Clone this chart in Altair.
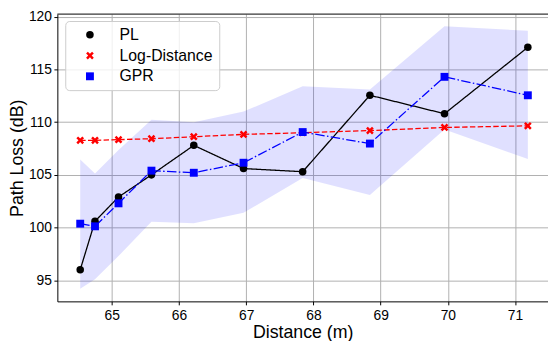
import altair as alt
import pandas as pd

# ---- data ----
distance = [64.53, 64.75, 65.10, 65.59, 66.22, 66.96, 67.84, 68.84, 69.95, 71.19]
pl = [96.0, 100.6, 102.9, 105.0, 107.8, 105.6, 105.3, 112.55, 110.8, 117.1]
log_distance = [108.28, 108.28, 108.34, 108.43, 108.62, 108.84, 109.0, 109.2, 109.5, 109.65]
gpr = [100.37, 100.12, 102.3, 105.4, 105.2, 106.15, 109.06, 107.97, 114.3, 112.55]
gpr_upper = [106.47, 105.12, 107.36, 110.22, 110.0, 111.0, 113.4, 113.1, 119.1, 118.66]
gpr_lower = [94.2, 95.1, 97.3, 100.55, 100.4, 101.4, 104.7, 103.1, 109.3, 106.5]

series_names = ["PL", "Log-Distance", "GPR"]
series_colors = ["#000000", "#ff0000", "#0000ff"]
x_ticks = [65, 66, 67, 68, 69, 70, 71]
y_ticks = [95, 100, 105, 110, 115, 120]

# filled "X" marker path (unit box -1..1)
X_PATH = "M-1,-0.55L-0.55,-1L0,-0.45L0.55,-1L1,-0.55L0.45,0L1,0.55L0.55,1L0,0.45L-0.55,1L-1,0.55L-0.45,0Z"
series_shapes = ["circle", X_PATH, "square"]
series_sizes = [58, 64, 62]
series_dash = [[1, 0], [5.5, 2.4], [9.6, 2.4, 1.5, 2.4]]

rows = []
for name, vals in zip(series_names, [pl, log_distance, gpr]):
    for d, v in zip(distance, vals):
        rows.append({"distance": d, "value": v, "series": name})
long_df = pd.DataFrame(rows)
band_df = pd.DataFrame({"distance": distance, "lower": gpr_lower, "upper": gpr_upper})

W, H = 497, 291
FONT = "Liberation Sans"

xscale = alt.Scale(domain=[64.19, 71.49], nice=False, zero=False)
yscale = alt.Scale(domain=[93.0, 120.25], nice=False, zero=False)

xaxis = alt.Axis(values=x_ticks, title="Distance (m)", grid=True, tickSize=3.5,
                 labelPadding=3.5, titlePadding=1.5, format="d")
yaxis = alt.Axis(values=y_ticks, title="Path Loss (dB)", grid=True, tickSize=3.5,
                 labelPadding=2.5, titlePadding=1.5, format="d")

color_scale = alt.Scale(domain=series_names, range=series_colors)

band = alt.Chart(band_df).mark_area(color="#0000ff", opacity=0.12).encode(
    x=alt.X("distance:Q", scale=xscale, axis=xaxis),
    y=alt.Y("lower:Q", scale=yscale, axis=yaxis),
    y2="upper:Q",
)

line_layers = []
for name, col, dash in zip(series_names, series_colors, series_dash):
    line_layers.append(
        alt.Chart(long_df).transform_filter(alt.datum.series == name)
        .mark_line(strokeWidth=1.3, color=col, strokeDash=dash)
        .encode(x=alt.X("distance:Q", scale=xscale), y=alt.Y("value:Q", scale=yscale))
    )

points = alt.Chart(long_df).mark_point(filled=True, opacity=1, strokeWidth=0).encode(
    x=alt.X("distance:Q", scale=xscale),
    y=alt.Y("value:Q", scale=yscale),
    color=alt.Color("series:N", scale=color_scale, title=None,
                    legend=alt.Legend(orient="none", legendX=8, legendY=7)),
    shape=alt.Shape("series:N", scale=alt.Scale(domain=series_names, range=series_shapes), title=None),
    size=alt.Size("series:N", scale=alt.Scale(domain=series_names, range=series_sizes), legend=None),
)

top_rule = alt.Chart(pd.DataFrame({"k": [0]})).mark_rule(color="black", strokeWidth=1).encode(
    x=alt.value(0), x2=alt.value(W), y=alt.value(0)
)

chart = alt.layer(band, *line_layers, points, top_rule).properties(
    width=W, height=H,
    autosize=alt.AutoSizeParams(type="none"),
    padding={"left": 50, "top": 4, "right": 0, "bottom": 42},
).configure_view(stroke=None).configure_axis(
    labelFont=FONT, titleFont=FONT, labelFontSize=14, titleFontSize=18,
    labelColor="black", titleColor="black", titleFontWeight="normal",
    domainColor="black", domainWidth=1, tickColor="black", tickWidth=1,
    gridColor="#b0b0b0", gridWidth=1,
).configure_legend(
    labelFont=FONT, labelFontSize=16, labelColor="black",
    symbolSize=60, symbolStrokeWidth=0, padding=6, symbolOffset=11, labelOffset=22,
    rowPadding=5, fillColor="rgba(255,255,255,0.8)", strokeColor="#cccccc",
    cornerRadius=4,
)

chart.save("out.html", embed_options={"renderer": "svg", "actions": False})
